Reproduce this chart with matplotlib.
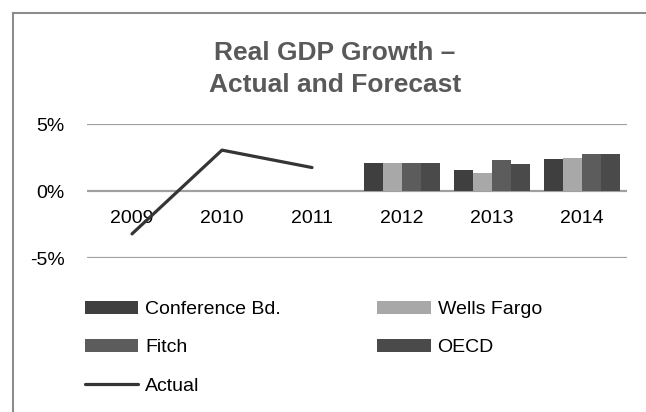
import numpy as np
import matplotlib
matplotlib.use("Agg")
import matplotlib.pyplot as plt
from matplotlib.lines import Line2D

plt.rcParams['font.family'] = ['Liberation Sans', 'DejaVu Sans']

# datos
anios = ['2009', '2010', '2011', '2012', '2013', '2014']
conference = [np.nan, np.nan, np.nan, 2.1, 1.6, 2.4]
wells = [np.nan, np.nan, np.nan, 2.1, 1.35, 2.5]
fitch = [np.nan, np.nan, np.nan, 2.1, 2.3, 2.75]
oecd = [np.nan, np.nan, np.nan, 2.1, 2.0, 2.75]
actual = [-3.2, 3.05, 1.75, np.nan, np.nan, np.nan]
yticks = [-5, 0, 5]
ylabels = ['-5%', '0%', '5%']

series = [('Conference Bd.', conference, '#3f3f3f'),
          ('Wells Fargo', wells, '#a8a8a8'),
          ('Fitch', fitch, '#5c5c5c'),
          ('OECD', oecd, '#4a4a4a')]

fig = plt.figure(figsize=(6.46, 4.12), dpi=100)
ax = fig.add_axes([87/646, 1-258/412, 540/646, 134/412])

x = np.arange(len(anios))
ancho = 0.21
handles = {}
for i, (nombre, vals, color) in enumerate(series):
    b = ax.bar(x + (i - 1.5)*ancho, vals, ancho, color=color, label=nombre, zorder=3)
    handles[nombre] = b
linea, = ax.plot(x, actual, color='#353535', lw=2.3, label='Actual', zorder=4,
                 solid_capstyle='round')
handles['Actual'] = linea

ax.set_xlim(-0.5, len(anios) - 0.5)
ax.set_ylim(-5, 5)
ax.set_yticks(yticks)
ax.set_yticklabels(ylabels)
ax.yaxis.grid(True, color='#a0a0a0', lw=1.6, zorder=0)
ax.set_axisbelow(True)
for s in ['top', 'right', 'left']:
    ax.spines[s].set_visible(False)
ax.spines['bottom'].set_position(('data', 0))
ax.spines['bottom'].set_visible(False)
ax.set_xticks(x)
ax.set_xticklabels(anios)
ax.tick_params(axis='x', length=0, pad=14, labelsize=14)
ax.tick_params(axis='y', length=0, pad=16, labelsize=14)

# titulo
fig.text(335/646, 1-60/412, 'Real GDP Growth \u2013', ha='center', va='baseline',
         fontsize=19, fontweight='bold', color='#595959')
fig.text(335/646, 1-92.5/412, 'Actual and Forecast', ha='center', va='baseline',
         fontsize=19, fontweight='bold', color='#595959')

orden = ['Conference Bd.', 'Fitch', 'Actual', 'Wells Fargo', 'OECD']
fig.legend([handles[n] for n in orden], orden, ncol=2, frameon=False,
           loc='upper left', bbox_to_anchor=(85/646, 1-301/412),
           borderpad=0, borderaxespad=0, fontsize=14, handlelength=2.73,
           handleheight=0.62, handletextpad=0.36, labelspacing=1.09,
           columnspacing=4.97)

# borde del grafico
fig.add_artist(Line2D([13.5/646, 13.5/646], [0, 1-12.5/412], color='#8c8c8c', lw=1.5))
fig.add_artist(Line2D([13.5/646, 1], [1-12.5/412, 1-12.5/412], color='#8c8c8c', lw=1.5))

fig.savefig('out.png', dpi=100)
